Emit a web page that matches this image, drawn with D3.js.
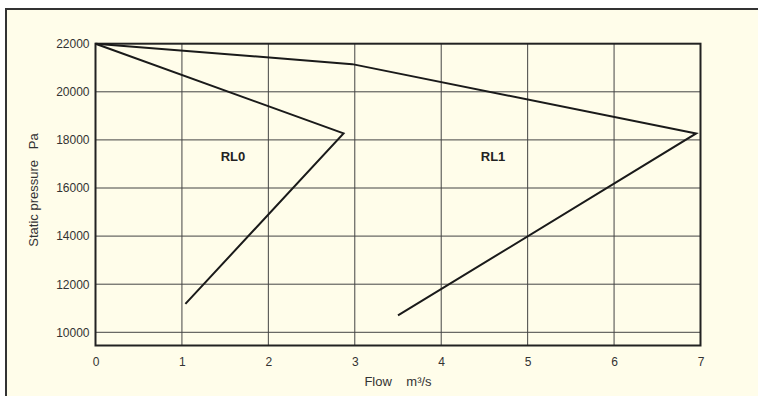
<!DOCTYPE html>
<html><head><meta charset="utf-8">
<script src="https://cdn.jsdelivr.net/npm/d3@7"></script>
<style>
html,body{margin:0;padding:0;background:#fff;}
svg{display:block;}
text{font-family:"Liberation Sans",Arial,sans-serif;}
</style></head>
<body>
<svg id="c" width="758" height="396"></svg>
<script>
const xTicks = [0,1,2,3,4,5,6,7];
const yTicks = [10000,12000,14000,16000,18000,20000,22000];
const rl0Flow = [0, 2.87, 1.04];
const rl0Pressure = [22000, 18270, 11180];
const rl1Flow = [0, 2.97, 6.95, 3.5];
const rl1Pressure = [22000, 21150, 18270, 10700];
const curveLabels = ["RL0","RL1"];
const labelFlow = [1.59, 4.6];
const labelPressure = [17350, 17350];

const svg = d3.select("#c");
svg.append("rect").attr("x",6).attr("y",9).attr("width",760).attr("height",400)
  .attr("fill","#FFFDEA").attr("stroke","#333").attr("stroke-width",2);

const m = {l:95.5, r:700.5, t:43.7, b:345.5};
const x = d3.scaleLinear().domain([0,7]).range([m.l,m.r]);
const y = d3.scaleLinear().domain([22000,10000]).range([m.t,332.3]);

const g = svg.append("g");
g.selectAll(".vg").data(xTicks.filter(d=>d>0&&d<7)).enter().append("line")
  .attr("x1",d=>x(d)).attr("x2",d=>x(d)).attr("y1",m.t).attr("y2",m.b)
  .attr("stroke","#444").attr("stroke-width",1);
g.selectAll(".hg").data(yTicks.filter(d=>d<22000)).enter().append("line")
  .attr("x1",m.l).attr("x2",m.r).attr("y1",d=>y(d)).attr("y2",d=>y(d))
  .attr("stroke","#444").attr("stroke-width",1);

const xAxis = d3.axisBottom(x).tickValues(xTicks).tickSize(0).tickPadding(12).tickFormat(d3.format("d"));
const xa = svg.append("g").attr("transform",`translate(0,${m.b})`).call(xAxis);
xa.select(".domain").remove();
xa.selectAll("text").attr("font-size",12).attr("fill","#333").attr("font-family","Liberation Sans, Arial, sans-serif");
const yAxis = d3.axisLeft(y).tickValues(yTicks).tickSize(0).tickPadding(6).tickFormat(d3.format("d"));
const ya = svg.append("g").attr("transform",`translate(${m.l},0)`).call(yAxis);
ya.select(".domain").remove();
ya.selectAll("text").attr("font-size",12).attr("fill","#333").attr("font-family","Liberation Sans, Arial, sans-serif");

svg.append("rect").attr("x",m.l).attr("y",m.t).attr("width",m.r-m.l).attr("height",m.b-m.t)
  .attr("fill","none").attr("stroke","#222").attr("stroke-width",2);

const line = d3.line().x(d=>x(d[0])).y(d=>y(d[1]));
[[rl0Flow,rl0Pressure],[rl1Flow,rl1Pressure]].forEach(([f,p])=>{
  svg.append("path").attr("d",line(f.map((v,i)=>[v,p[i]])))
    .attr("fill","none").attr("stroke","#1a1a1a").attr("stroke-width",2).attr("stroke-linejoin","miter");
});

curveLabels.forEach((t,i)=>{
  svg.append("text").attr("x",x(labelFlow[i])).attr("y",y(labelPressure[i])+5)
    .attr("text-anchor","middle").attr("font-size",13).attr("font-weight","bold").attr("fill","#222").text(t);
});

svg.append("text").attr("x",398).attr("y",386).attr("text-anchor","middle")
  .attr("font-size",13).attr("fill","#333").style("white-space","pre").text("Flow    m³/s");
svg.append("text").attr("transform","translate(38,190) rotate(-90)").attr("text-anchor","middle")
  .attr("font-size",13).attr("fill","#333").style("white-space","pre").text("Static pressure   Pa");
</script>
</body></html>
